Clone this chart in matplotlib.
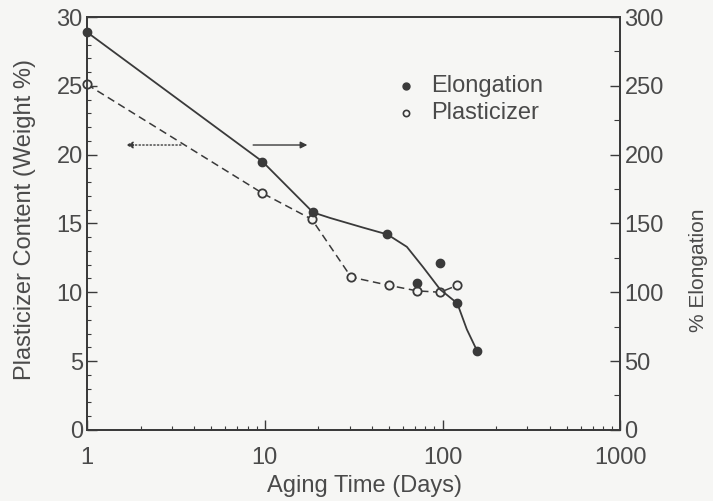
import matplotlib
matplotlib.use("Agg")
import matplotlib.pyplot as plt
from matplotlib.ticker import FixedLocator, NullFormatter, MultipleLocator

elong_days = [1, 9.7, 18.7, 49, 72, 97, 121, 157]
elong_pct = [289, 195, 158, 142, 107, 121, 92, 57]

plast_days = [1, 9.7, 18.4, 30.6, 50, 72, 97, 121]
plast_wt = [25.1, 17.2, 15.3, 11.1, 10.5, 10.1, 10.0, 10.5]

# Hand-drawn trend curve for elongation (vertices)
elong_curve_days = [1, 9.7, 18.7, 23.3, 35.7, 49, 63, 78, 97, 121, 137, 157]
elong_curve_pct = [289, 195, 158, 154, 147, 142, 133, 118, 102, 92, 73, 57]

x_ticks = [1, 10, 100, 1000]
left_ticks = [0, 5, 10, 15, 20, 25, 30]
right_ticks = [0, 50, 100, 150, 200, 250, 300]

INK = "#3a3a3a"
TXT = "#4a4a4a"
BG = "#f6f6f4"
FS = 17

plt.rcParams["font.family"] = ["Liberation Sans", "DejaVu Sans"]

fig = plt.figure(figsize=(7.13, 5.01), dpi=100, facecolor=BG)
ax = fig.add_axes([0.122, 0.142, 0.748, 0.824], facecolor=BG)
ax2 = ax.twinx()

ax.set_xscale("log")
ax.set_xlim(1, 1000)
ax.set_ylim(0, 30)
ax2.set_ylim(0, 300)

# plasticizer (left axis), dashed with open circles
ax.plot(plast_days, plast_wt, color=INK, lw=1.1, ls=(0, (5, 3)), zorder=3)
ax.plot(plast_days, plast_wt, ls="none", marker="o", ms=6, mfc=BG,
        mec=INK, mew=1.3, zorder=4, clip_on=False)

# elongation (right axis), solid curve with filled dots
ax2.plot(elong_curve_days, elong_curve_pct, color=INK, lw=1.3, zorder=3)
ax2.plot(elong_days, elong_pct, ls="none", marker="o", ms=6, color=INK,
         zorder=4, clip_on=False)

# direction arrows showing which axis belongs to which curve
ax.annotate("", xy=(1.6, 20.7), xytext=(3.5, 20.7),
            arrowprops=dict(arrowstyle="-|>", color=INK, lw=1.0, ls=":",
                            mutation_scale=10))
ax.annotate("", xy=(18, 20.7), xytext=(8.3, 20.7),
            arrowprops=dict(arrowstyle="-|>", color=INK, lw=1.0,
                            mutation_scale=10))

# legend, drawn as text + markers
ax.plot([62], [25.0], ls="none", marker="o", ms=5, color=INK)
ax.plot([62], [23.0], ls="none", marker="o", ms=4.5, mfc=BG, mec=INK, mew=1.2)
ax.text(86, 25.0, "Elongation", fontsize=FS, color=TXT, va="center")
ax.text(86, 23.0, "Plasticizer", fontsize=FS, color=TXT, va="center")

# ticks
ax.xaxis.set_major_locator(FixedLocator(x_ticks))
ax.set_xticklabels([str(t) for t in x_ticks])
ax.xaxis.set_minor_formatter(NullFormatter())
ax.set_yticks(left_ticks)
ax.yaxis.set_minor_locator(MultipleLocator(1))
ax2.set_yticks(right_ticks)
ax2.yaxis.set_minor_locator(MultipleLocator(25))

ax.tick_params(which="both", direction="in", colors=INK, labelcolor=TXT,
               labelsize=FS, top=False)
ax.tick_params(which="major", length=7, width=1.0)
ax.tick_params(which="minor", length=3, width=0.8)
ax.tick_params(axis="x", pad=12)
ax.tick_params(axis="y", pad=3)
ax2.tick_params(which="both", direction="in", colors=INK, labelcolor=TXT,
                labelsize=FS, pad=3)
ax2.tick_params(which="major", length=7, width=1.0)
ax2.tick_params(which="minor", length=4, width=0.8)

for a in (ax, ax2):
    for s in a.spines.values():
        s.set_color(INK)
        s.set_linewidth(1.3)

ax.set_xlabel("Aging Time (Days)", fontsize=FS, color=TXT)
ax.xaxis.set_label_coords(0.52, -0.109)
ax.set_ylabel("Plasticizer Content (Weight %)", fontsize=FS, color=TXT)
ax.yaxis.set_label_coords(-0.096, 0.51)
ax2.set_ylabel("% Elongation", fontsize=15, color=TXT)
ax2.yaxis.set_label_coords(1.128, 0.387)

fig.savefig("out.png", dpi=100, facecolor=BG)
